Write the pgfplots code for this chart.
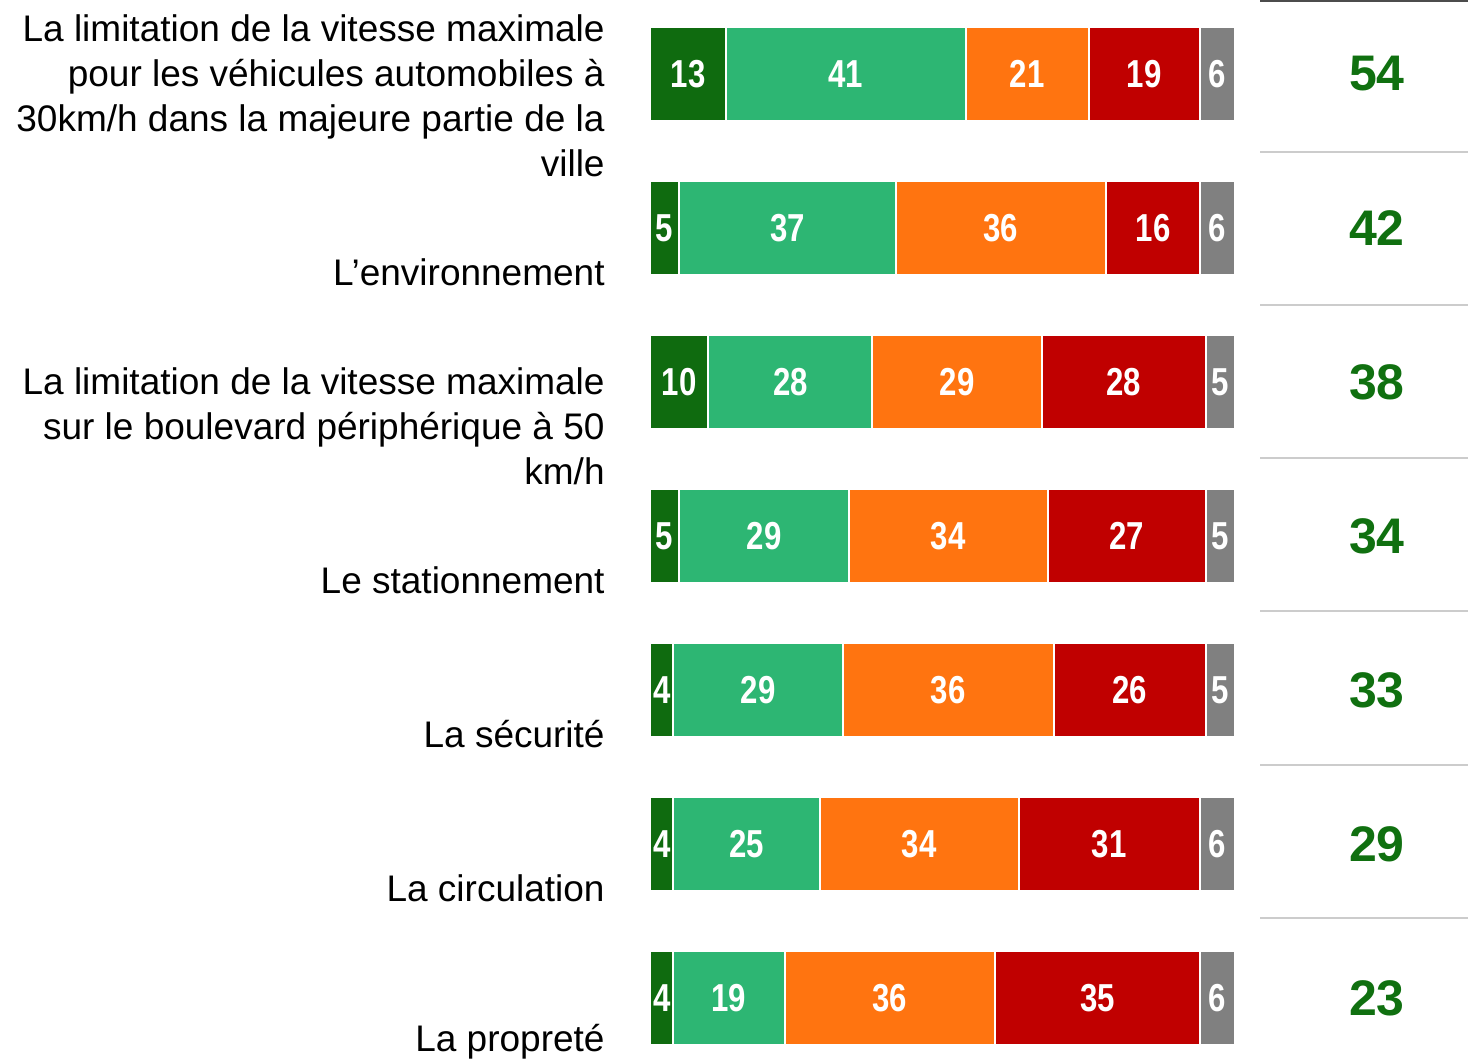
\documentclass[border=0pt]{standalone}
\usepackage{pgfplots}
\pgfplotsset{compat=1.18}
\usepackage{fontspec}
\setmainfont{Liberation Sans}
\newfontfamily\barfont[FakeStretch=0.8]{Liberation Sans}
\DeclareRobustCommand\barnum{\barfont\bfseries\fontsize{19.5}{20}\selectfont}
\DeclareRobustCommand\labfont{\fontsize{18.5}{22.5}\selectfont}
\DeclareRobustCommand\totfont{\bfseries\fontsize{25}{26}\selectfont}
\definecolor{cdg}{HTML}{0F6B0F}
\definecolor{cmg}{HTML}{2DB673}
\definecolor{cor}{HTML}{FF7410}
\definecolor{cre}{HTML}{C00000}
\definecolor{cgr}{HTML}{808080}
\definecolor{ctot}{HTML}{107010}
\begin{document}
\begin{tikzpicture}
\begin{axis}[
  at={(0pt,0pt)}, anchor=south west,
  xbar stacked,
  scale only axis,
  width=292.5pt, height=530pt,
  xmin=0, xmax=100,
  ymin=-0.4805, ymax=6.4026,
  y dir=reverse,
  hide axis,
  bar width=47pt,
  clip=false,
  /pgf/number format/assume math mode=true,
  nodes near coords,
  every node near coord/.append style={font=\barnum, text=white},
]
\addplot[fill=cdg, draw=white, line width=1pt] coordinates {(13,0) (5,1) (10,2) (5,3) (4,4) (4,5) (4,6)};
\addplot[fill=cmg, draw=white, line width=1pt] coordinates {(41,0) (37,1) (28,2) (29,3) (29,4) (25,5) (19,6)};
\addplot[fill=cor, draw=white, line width=1pt] coordinates {(21,0) (36,1) (29,2) (34,3) (36,4) (34,5) (36,6)};
\addplot[fill=cre, draw=white, line width=1pt] coordinates {(19,0) (16,1) (28,2) (27,3) (26,4) (31,5) (35,6)};
\addplot[fill=cgr, draw=white, line width=1pt] coordinates {(6,0) (6,1) (5,2) (5,3) (5,4) (6,5) (6,6)};
\end{axis}
% px -> pt: x = (px-650)/2, y = (1060-px)/2
\begin{scope}[every node/.style={anchor=east, align=right, font=\labfont, inner sep=0pt}]
\node at (-22.5pt,482.25pt) {La limitation de la vitesse maximale\\pour les véhicules automobiles à\\30km/h dans la majeure partie de la\\ville};
\node at (-22.5pt,394pt) {L’environnement};
\node at (-22.5pt,317pt) {La limitation de la vitesse maximale\\sur le boulevard périphérique à 50\\km/h};
\node at (-22.5pt,240pt) {Le stationnement};
\node at (-22.5pt,163pt) {La sécurité};
\node at (-22.5pt,86pt) {La circulation};
\node at (-22.5pt,9pt) {La propreté};
\end{scope}
\draw[color=black!70, line width=1pt] (305pt,529.5pt) -- (409pt,529.5pt);
\draw[color=black!20, line width=1pt] (305pt,454pt) -- (409pt,454pt);
\draw[color=black!20, line width=1pt] (305pt,377.5pt) -- (409pt,377.5pt);
\draw[color=black!20, line width=1pt] (305pt,301pt) -- (409pt,301pt);
\draw[color=black!20, line width=1pt] (305pt,224.5pt) -- (409pt,224.5pt);
\draw[color=black!20, line width=1pt] (305pt,147.5pt) -- (409pt,147.5pt);
\draw[color=black!20, line width=1pt] (305pt,71pt) -- (409pt,71pt);
\begin{scope}[every node/.style={anchor=center, font=\totfont, text=ctot, inner sep=0pt}]
\node at (363.5pt,493pt) {54};
\node at (363.5pt,416pt) {42};
\node at (363.5pt,339pt) {38};
\node at (363.5pt,262pt) {34};
\node at (363.5pt,185pt) {33};
\node at (363.5pt,108pt) {29};
\node at (363.5pt,31pt) {23};
\end{scope}
\pgfresetboundingbox
\path (-325pt,0pt) rectangle (409pt,530pt);
\end{tikzpicture}
\end{document}
